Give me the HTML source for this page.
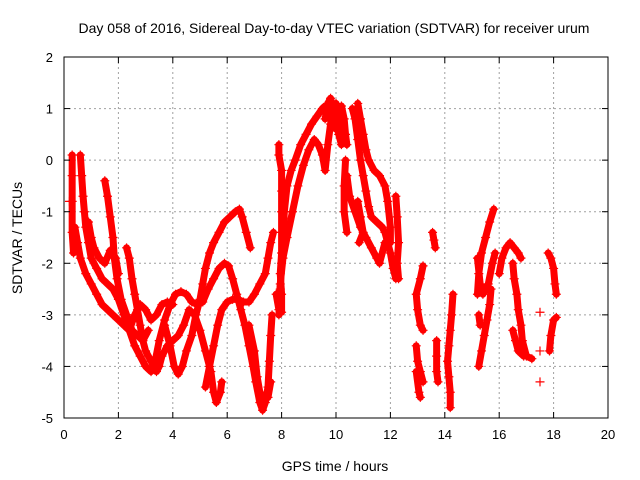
<!DOCTYPE html>
<html><head><meta charset="utf-8"><style>
html,body{margin:0;padding:0;background:#fff;}
svg{display:block;font-family:"Liberation Sans",sans-serif;}
</style></head><body>
<svg id="chart" width="640" height="480" viewBox="0 0 640 480" xmlns="http://www.w3.org/2000/svg">
<text x="334" y="33" font-size="14" text-anchor="middle">Day 058 of 2016, Sidereal Day-to-day VTEC variation (SDTVAR) for receiver urum</text>
<text transform="translate(22,238) rotate(-90)" font-size="14" text-anchor="middle">SDTVAR / TECUs</text>
<text x="335" y="471" font-size="14" text-anchor="middle">GPS time / hours</text>
<g id="grid"></g>
<g id="marks"></g>
<rect x="64" y="57" width="544" height="361" fill="none" stroke="#000" stroke-width="1"/>
<g id="ticks"></g>
</svg>
<script>
const xTicks = [0,2,4,6,8,10,12,14,16,18,20];
const yTicks = [2,1,0,-1,-2,-3,-4,-5];
const track01 = [[0.3,0.1],[0.3,-0.3],[0.3,-0.8],[0.3,-1.4],[0.35,-1.8]];
const track02 = [[0.6,0.1],[0.65,-0.3],[0.7,-0.7],[0.75,-1.0],[0.8,-1.3],[0.9,-1.6],[1.0,-1.9],[1.2,-2.1],[1.4,-2.3],[1.6,-2.4],[1.8,-2.5],[2.0,-2.7],[2.2,-3.0],[2.4,-3.3],[2.6,-3.6],[2.8,-3.8],[3.0,-4.0],[3.2,-4.1],[3.35,-3.9],[3.5,-3.5],[3.7,-3.1],[3.9,-2.8],[4.1,-2.6],[4.3,-2.55],[4.5,-2.6],[4.7,-2.75],[4.9,-2.8],[5.1,-2.75],[5.3,-2.5],[5.5,-2.3],[5.7,-2.1],[5.9,-2.0],[6.05,-2.05],[6.2,-2.3],[6.35,-2.6],[6.5,-2.9],[6.65,-3.2],[6.8,-3.6],[6.95,-4.0],[7.05,-4.3],[7.2,-4.7],[7.3,-4.85],[7.4,-4.7],[7.5,-4.4],[7.55,-3.9],[7.6,-3.4],[7.65,-3.0]];
const track03 = [[0.4,-1.3],[0.5,-1.6],[0.6,-1.9],[0.8,-2.2],[1.0,-2.4],[1.2,-2.6],[1.4,-2.8],[1.6,-2.9],[1.8,-3.0],[2.0,-3.1],[2.2,-3.2],[2.4,-3.3],[2.6,-3.0],[2.8,-2.8],[3.0,-2.9],[3.2,-3.1],[3.4,-3.0],[3.6,-2.8],[3.8,-2.75],[4.0,-2.8]];
const track04 = [[1.5,-0.4],[1.6,-0.7],[1.7,-1.1],[1.8,-1.5],[1.85,-1.9],[1.95,-2.3],[2.1,-2.7],[2.3,-3.0],[2.5,-3.3],[2.7,-3.4],[2.9,-3.5],[3.1,-3.3]];
const track05 = [[0.9,-1.2],[1.0,-1.5],[1.1,-1.7],[1.3,-1.9],[1.5,-2.0],[1.7,-1.75],[1.9,-1.9],[2.0,-2.2]];
const track06 = [[2.3,-1.7],[2.4,-1.9],[2.5,-2.3],[2.6,-2.6],[2.7,-2.9],[2.8,-3.2],[2.9,-3.5],[3.0,-3.7],[3.2,-3.9],[3.4,-4.1],[3.5,-4.0],[3.6,-3.8],[3.8,-3.6],[4.0,-3.5],[4.2,-3.4],[4.4,-3.2],[4.6,-2.9],[4.8,-3.0],[5.0,-3.3],[5.2,-3.7],[5.4,-4.1],[5.5,-4.5],[5.6,-4.7],[5.75,-4.5],[5.8,-4.3]];
const track07 = [[3.7,-3.2],[3.9,-3.6],[4.05,-4.0],[4.2,-4.15],[4.35,-4.0],[4.5,-3.7],[4.7,-3.4],[4.85,-3.0],[5.0,-2.7],[5.1,-2.4],[5.2,-2.1],[5.35,-1.8],[5.5,-1.6],[5.7,-1.4],[5.9,-1.2],[6.1,-1.1],[6.3,-1.0],[6.45,-0.95],[6.55,-1.1],[6.7,-1.4],[6.85,-1.7]];
const track08 = [[5.2,-4.4],[5.35,-4.0],[5.5,-3.6],[5.65,-3.2],[5.8,-2.9],[6.0,-2.75],[6.2,-2.7],[6.4,-2.7],[6.6,-2.75],[6.8,-2.75],[7.0,-2.6],[7.2,-2.4],[7.4,-2.2],[7.5,-1.9],[7.6,-1.6],[7.7,-1.4]];
const track09 = [[6.8,-3.2],[7.0,-3.7],[7.1,-4.2],[7.2,-4.5],[7.35,-4.65],[7.5,-4.6],[7.6,-4.3]];
const track10 = [[7.9,-3.0],[7.95,-2.5],[8.0,-2.0],[8.05,-1.5],[8.1,-1.0],[8.2,-0.5],[8.35,-0.2],[8.5,0.0],[8.7,0.3],[8.9,0.5],[9.1,0.7],[9.3,0.85],[9.5,1.0],[9.6,1.05],[9.75,0.9],[9.9,0.7],[10.0,0.6]];
const track11 = [[7.8,-2.6],[7.9,-2.9],[7.95,-2.4],[8.05,-1.9],[8.2,-1.5],[8.4,-1.0],[8.6,-0.5],[8.8,-0.1],[9.0,0.2],[9.2,0.4],[9.35,0.3],[9.5,0.1],[9.6,-0.2],[9.7,0.3],[9.8,0.7],[9.9,1.0],[10.0,1.1],[10.1,0.9],[10.2,0.5],[10.3,0.4]];
const track12 = [[7.9,0.3],[7.9,0.1],[8.0,-0.2],[8.0,-0.6],[8.0,-1.0],[8.0,-1.4],[8.0,-1.8],[7.95,-2.2],[8.0,-2.6],[8.0,-2.95]];
const track13 = [[10.6,1.0],[10.7,0.8],[10.8,0.4],[10.9,0.0],[11.0,-0.3],[11.1,-0.6],[11.2,-0.9],[11.3,-1.1],[11.5,-1.2],[11.7,-1.3],[11.8,-1.4],[11.9,-1.6],[12.0,-1.8],[12.1,-2.1],[12.2,-2.3]];
const track14 = [[10.8,1.1],[10.9,0.8],[11.0,0.5],[11.1,0.2],[11.2,0.0],[11.4,-0.2],[11.6,-0.3],[11.8,-0.5],[11.9,-0.8],[12.0,-1.3],[12.0,-1.6]];
const track15 = [[10.4,-0.3],[10.5,-0.7],[10.7,-1.0],[10.9,-1.3],[11.1,-1.5],[11.3,-1.7],[11.5,-1.9],[11.6,-2.0],[11.8,-1.6]];
const track16 = [[10.35,0.0],[10.3,-0.5],[10.3,-1.0],[10.4,-1.4]];
const track17 = [[12.2,-0.7],[12.25,-1.1],[12.3,-1.6],[12.25,-2.0],[12.3,-2.3]];
const track18 = [[13.2,-2.05],[13.1,-2.3],[12.95,-2.6],[13.0,-2.9],[13.1,-3.2],[13.2,-3.3]];
const track19 = [[12.95,-3.6],[13.0,-3.9],[13.1,-4.1],[13.2,-4.3]];
const track20 = [[12.95,-4.1],[13.05,-4.5],[13.1,-4.6]];
const track21 = [[13.55,-1.4],[13.6,-1.55],[13.65,-1.7]];
const track22 = [[13.7,-3.5],[13.7,-3.8],[13.7,-4.1],[13.75,-4.3]];
const track23 = [[14.3,-2.6],[14.25,-3.0],[14.2,-3.3],[14.15,-3.6],[14.1,-3.9],[14.15,-4.2],[14.2,-4.5],[14.2,-4.8]];
const track24 = [[15.25,-4.0],[15.35,-3.7],[15.45,-3.4],[15.55,-3.1],[15.65,-2.8],[15.7,-2.5]];
const track25 = [[15.2,-2.6],[15.25,-2.2],[15.35,-1.8],[15.5,-1.5],[15.65,-1.2],[15.8,-0.95]];
const track26 = [[15.2,-1.9],[15.3,-2.4],[15.4,-2.6],[15.6,-2.4],[15.75,-2.0],[15.85,-1.8]];
const track27 = [[15.25,-3.0],[15.3,-3.2]];
const track28 = [[16.0,-2.2],[16.1,-1.9],[16.25,-1.7],[16.4,-1.6],[16.55,-1.7],[16.7,-1.8],[16.8,-1.9]];
const track29 = [[16.5,-2.0],[16.55,-2.3],[16.65,-2.6],[16.7,-2.9],[16.8,-3.2],[16.85,-3.5],[17.0,-3.8],[17.2,-3.85]];
const track30 = [[16.5,-3.3],[16.6,-3.5],[16.7,-3.7],[16.9,-3.8]];
const track31 = [[17.8,-1.8],[17.9,-1.9],[18.0,-2.1],[18.05,-2.4],[18.1,-2.6]];
const track32 = [[17.85,-3.7],[17.9,-3.4],[18.0,-3.1],[18.1,-3.05]];
const track33 = [[9.6,0.8],[9.7,1.1],[9.8,1.2],[9.9,1.0],[10.0,0.9],[10.1,0.5],[10.2,0.3]];
const track34 = [[10.2,1.05],[10.3,0.8],[10.35,0.5],[10.4,0.3]];
const track35 = [[10.8,-0.8],[10.9,-1.1],[11.0,-1.4],[10.85,-1.6]];
const isolated = [[17.5,-2.95],[17.5,-3.7],[17.5,-4.3],[0.2,-0.8]];
const tracks = [track01,track02,track03,track04,track05,track06,track07,track08,track09,track10,track11,track12,track13,track14,track15,track16,track17,track18,track19,track20,track21,track22,track23,track24,track25,track26,track27,track28,track29,track30,track31,track32,track33,track34,track35];

const NS='http://www.w3.org/2000/svg';
const X0=64,X1=608,Y0=418,Y1=57;
function xs(t){return X0+(t-0)/(20-0)*(X1-X0);}
function ys(v){return Y0-(v-(-5))/(2-(-5))*(Y0-Y1);}
function mk(tag,attrs,parent){const e=document.createElementNS(NS,tag);for(const k in attrs)e.setAttribute(k,attrs[k]);parent.appendChild(e);return e;}
const grid=document.getElementById('grid'),ticks=document.getElementById('ticks'),marks=document.getElementById('marks');
xTicks.forEach(t=>{
  const x=xs(t);
  if(t>0&&t<20){const g=mk('line',{x1:x,x2:x,y1:Y1,y2:Y0,stroke:'#a0a0a0','stroke-dasharray':'2,3'},grid);
    
    }
  mk('line',{x1:x,x2:x,y1:Y0,y2:Y0-6,stroke:'#000'},ticks);
  mk('line',{x1:x,x2:x,y1:Y1,y2:Y1+6,stroke:'#000'},ticks);
  const l=mk('text',{x:x,y:Y0+21,'font-size':13,'text-anchor':'middle'},ticks);
  l.textContent=t;
  
  
});
yTicks.forEach(v=>{
  const y=ys(v);
  if(v<2&&v>-5){const g=mk('line',{x1:X0,x2:X1,y1:y,y2:y,stroke:'#a0a0a0','stroke-dasharray':'2,3'},grid);
    
    }
  mk('line',{x1:X0,x2:X0+6,y1:y,y2:y,stroke:'#000'},ticks);
  mk('line',{x1:X1,x2:X1-6,y1:y,y2:y,stroke:'#000'},ticks);
  const l=mk('text',{x:X0-11,y:y+5,'font-size':13,'text-anchor':'end'},ticks);
  l.textContent=v;
  
  
});
function plus(t,v,parent){
  const x=xs(t),y=ys(v);
  const p=mk('path',{d:`M${x-4.5},${y}H${x+4.5}M${x},${y-4.5}V${y+4.5}`,stroke:'#f00','stroke-width':1.2,fill:'none'},parent);
  
  
}
tracks.forEach(tr=>{
  const g=mk('g',{},marks);
  
  
  const pl=mk('polyline',{points:tr.map(p=>xs(p[0])+','+ys(p[1])).join(' '),stroke:'#f00','stroke-width':7,fill:'none','stroke-linejoin':'round','stroke-linecap':'round'},g);
  
  
  tr.forEach(p=>plus(p[0],p[1],g));
});
isolated.forEach(p=>plus(p[0],p[1],marks));
</script>
</body></html>
